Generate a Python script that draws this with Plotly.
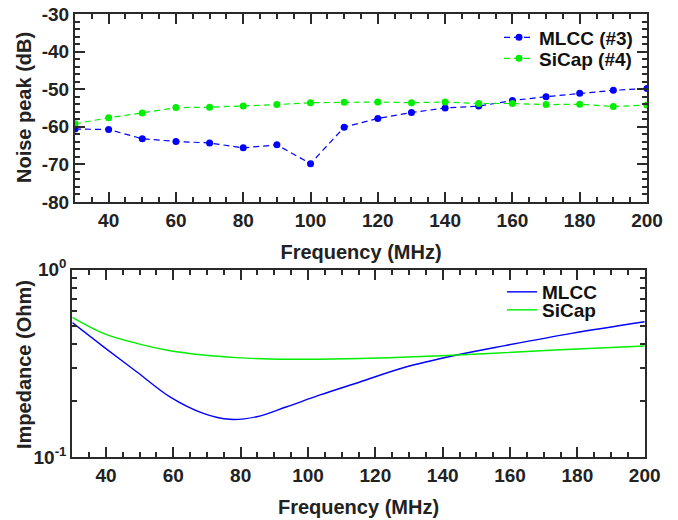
import plotly.graph_objects as go

# ---------------- data ----------------
freq_top = [30, 40, 50, 60, 70, 80, 90, 100, 110, 120, 130, 140, 150, 160, 170, 180, 190, 200]
mlcc_noise = [-60.6, -60.7, -63.2, -63.9, -64.3, -65.6, -64.8, -69.8, -60.1, -57.8,
              -56.2, -55.0, -54.5, -53.0, -52.0, -51.1, -50.3, -49.8]
sicap_noise = [-59.2, -57.6, -56.3, -54.9, -54.8, -54.5, -54.1, -53.6, -53.5, -53.4,
               -53.6, -53.4, -53.8, -53.8, -54.1, -54.0, -54.6, -54.2]

freq_mlcc = [30, 39.2, 49.1, 59.0, 68.9, 76.8, 84.8, 93.7, 103.6, 115.4, 128.8, 144.2, 158.5, 178.3, 200]
imp_mlcc = [0.522, 0.389, 0.286, 0.210, 0.1716, 0.1594, 0.1646, 0.186, 0.215, 0.252,
            0.302, 0.351, 0.394, 0.458, 0.528]
freq_sicap = [30, 39.2, 49.1, 59.0, 68.9, 78.8, 88.7, 98.6, 115.4, 144.2, 173.4, 200]
imp_sicap = [0.557, 0.458, 0.405, 0.370, 0.351, 0.340, 0.334, 0.333, 0.336, 0.351, 0.373, 0.392]

noise_tickvals = [-80, -70, -60, -50, -40, -30]
noise_ticktext = ["-80", "-70", "-60", "-50", "-40", "-30"]
imp_tickvals = [0.1, 1]
imp_ticktext = ["10<sup>-1</sup>", "10<sup>0</sup>"]
imp_minorvals = [0.2, 0.3, 0.4, 0.5, 0.6, 0.7, 0.8, 0.9]

# ---------------- style ----------------
BLUE = "#0000FF"
GREEN = "#00EE00"
TXT = "#222222"
AX = "#2a2a2a"
FONT = "Liberation Sans"
W, H = 678, 520


def px_x(p):
    """page pixel x -> paper coordinate"""
    return p / W


def px_y(p):
    """page pixel y -> paper coordinate"""
    return 1 - p / H


fig = go.Figure()

fig.add_trace(go.Scatter(x=freq_top, y=mlcc_noise, mode="lines+markers", name="MLCC (#3)",
                         line=dict(color=BLUE, width=1.2, dash="6px,4px"),
                         marker=dict(color=BLUE, size=7), xaxis="x", yaxis="y", legend="legend"))
fig.add_trace(go.Scatter(x=freq_top, y=sicap_noise, mode="lines+markers", name="SiCap (#4)",
                         line=dict(color=GREEN, width=1.2, dash="6px,4px"),
                         marker=dict(color=GREEN, size=7), xaxis="x", yaxis="y", legend="legend2"))
fig.add_trace(go.Scatter(x=freq_mlcc, y=imp_mlcc, mode="lines", name="MLCC",
                         line=dict(color=BLUE, width=1.4, shape="spline", smoothing=1.0),
                         xaxis="x2", yaxis="y2", legend="legend3"))
fig.add_trace(go.Scatter(x=freq_sicap, y=imp_sicap, mode="lines", name="SiCap",
                         line=dict(color=GREEN, width=1.4, shape="spline", smoothing=1.0),
                         xaxis="x2", yaxis="y2", legend="legend4"))

tickfont = dict(family=FONT, size=19, color=TXT, weight="bold")
titlefont = dict(family=FONT, size=20, color=TXT, weight="bold")

common = dict(showline=True, linecolor=AX, linewidth=2, mirror="allticks",
              ticks="inside", ticklen=10, tickwidth=2, tickcolor=AX,
              showgrid=False, zeroline=False, tickfont=tickfont, automargin=False,
              ticklabeloverflow="allow")
minor_x = dict(ticks="inside", ticklen=5, tickwidth=2, tickcolor=AX, dtick=5, tick0=0)

fig.update_layout(
    width=W, height=H,
    margin=dict(l=0, r=0, t=0, b=0),
    paper_bgcolor="white", plot_bgcolor="white",
    xaxis=dict(domain=[px_x(75), px_x(647)], range=[30, 200], tick0=0, dtick=20,
               minor=minor_x,
               title=dict(text="Frequency (MHz)", font=titlefont), anchor="y", **common),
    yaxis=dict(domain=[px_y(202), px_y(14)], range=[-80, -30],
               tickmode="array", tickvals=noise_tickvals, ticktext=noise_ticktext,
               minor=dict(ticks="inside", ticklen=5, tickwidth=2, tickcolor=AX, dtick=2),
               anchor="x", **common),
    xaxis2=dict(domain=[px_x(72.3), px_x(644.7)], range=[30, 200], tick0=0, dtick=20,
                minor=minor_x,
                title=dict(text="Frequency (MHz)", font=titlefont), anchor="y2", **common),
    yaxis2=dict(domain=[px_y(457.3), px_y(269.7)], type="log", range=[-1, 0],
                tickmode="array", tickvals=imp_tickvals, ticktext=imp_ticktext,
                minor=dict(ticks="inside", ticklen=5, tickwidth=2, tickcolor=AX,
                           tickmode="array", tickvals=imp_minorvals),
                anchor="x2", **common),
    showlegend=True,
)

# y-axis titles placed as rotated text beside each panel
fig.add_annotation(text="Noise peak (dB)", x=px_x(24), y=px_y(108), xref="paper", yref="paper",
                   textangle=-90, showarrow=False, font=titlefont, xanchor="center", yanchor="middle")
fig.add_annotation(text="Impedance (Ohm)", x=px_x(24), y=px_y(365), xref="paper", yref="paper",
                   textangle=-90, showarrow=False, font=titlefont, xanchor="center", yanchor="middle")

legfont = dict(family=FONT, size=19, color="#111111", weight="bold")
leg = dict(bgcolor="rgba(0,0,0,0)", borderwidth=0, font=legfont, xanchor="left",
           yanchor="middle", itemwidth=30, tracegroupgap=0)
fig.update_layout(
    legend=dict(x=px_x(499), y=px_y(37.5), **leg),
    legend2=dict(x=px_x(499), y=px_y(58.5), **leg),
    legend3=dict(x=px_x(502), y=px_y(292), **leg),
    legend4=dict(x=px_x(502), y=px_y(310), **leg),
)

# remove the browser's default 8px body margin so the figure fills the window exactly
fig.write_html("out.html", config={"displayModeBar": False},
               post_script="document.body.style.margin='0px';")
